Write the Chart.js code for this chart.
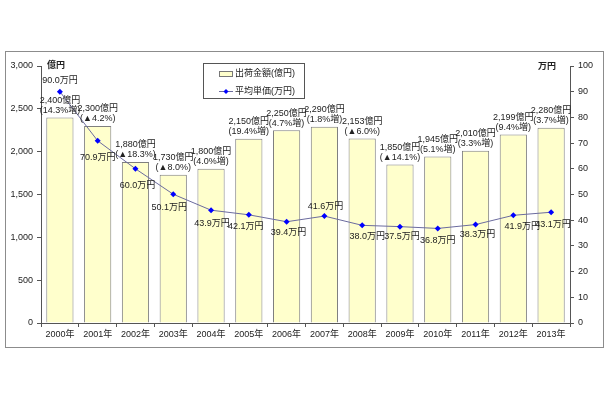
<!DOCTYPE html>
<html>
<head>
<meta charset="utf-8">
<script src="https://cdn.jsdelivr.net/npm/chart.js@4"></script>
<style>
  body { margin: 0; background: #fff; }
  #frame { position: absolute; left: 5px; top: 51px; width: 597px; height: 295px; border: 1px solid #8c8c8c; }
</style>
</head>
<body>
<div id="frame"><canvas id="chart"></canvas></div>
<script>
const years = ['2000年', '2001年', '2002年', '2003年', '2004年', '2005年', '2006年',
               '2007年', '2008年', '2009年', '2010年', '2011年', '2012年', '2013年'];
const shipments = [2400, 2300, 1880, 1730, 1800, 2150, 2250, 2290, 2153, 1850, 1945, 2010, 2199, 2280];
const shipmentChange = ['(14.3%増)', '(▲4.2%)', '(▲18.3%)', '(▲8.0%)', '(4.0%増)', '(19.4%増)', '(4.7%増)',
                        '(1.8%増)', '(▲6.0%)', '(▲14.1%)', '(5.1%増)', '(3.3%増)', '(9.4%増)', '(3.7%増)'];
const avgPrice = [90.0, 70.9, 60.0, 50.1, 43.9, 42.1, 39.4, 41.6, 38.0, 37.5, 36.8, 38.3, 41.9, 43.1];
const leftTicks = [0, 500, 1000, 1500, 2000, 2500, 3000];
const rightTicks = [0, 10, 20, 30, 40, 50, 60, 70, 80, 90, 100];

// label nudges for the price line (dx, dy from the point)
const priceLabelPos = [[0, -11], [0, 17], [2, 17], [-4, 13], [1, 13], [-3, 12], [2, 11],
                       [1, -10], [5, 11], [2, 10], [0, 12], [2, 10], [9, 11], [2, 12]];

const FONT = '"Liberation Sans", "Noto Sans CJK JP", sans-serif';

const labelsPlugin = {
    id: 'labels',
    afterDatasetsDraw(chart) {
        const ctx = chart.ctx;
        ctx.save();
        ctx.fillStyle = '#222';
        ctx.font = '9px ' + FONT;
        ctx.textAlign = 'center';
        ctx.textBaseline = 'middle';

        const bars = chart.getDatasetMeta(0).data;
        bars.forEach((b, i) => {
            ctx.fillText(shipments[i].toLocaleString('en-US') + '億円', b.x, b.y - 17);
            ctx.fillText(shipmentChange[i], b.x, b.y - 7);
        });

        const pts = chart.getDatasetMeta(1).data;
        pts.forEach((p, i) => {
            ctx.fillText(avgPrice[i].toFixed(1) + '万円', p.x + priceLabelPos[i][0], p.y + priceLabelPos[i][1]);
        });

        // axis unit titles
        const area = chart.chartArea;
        ctx.font = 'bold 9px ' + FONT;
        ctx.textAlign = 'left';
        ctx.fillText('億円', area.left + 6, area.top);
        ctx.textAlign = 'right';
        ctx.fillText('万円', area.right - 14, area.top + 1);

        // legend box
        ctx.strokeStyle = '#555';
        ctx.lineWidth = 1;
        ctx.strokeRect(197.5, 11.5, 101, 35);
        ctx.fillStyle = '#FFFFCC';
        ctx.fillRect(213, 19, 14, 5);
        ctx.strokeStyle = '#777';
        ctx.strokeRect(213.5, 19.5, 13, 5);
        ctx.strokeStyle = '#6B6B9E';
        ctx.beginPath();
        ctx.moveTo(213, 39.5);
        ctx.lineTo(227, 39.5);
        ctx.stroke();
        ctx.fillStyle = '#0000FF';
        ctx.beginPath();
        ctx.moveTo(220, 37); ctx.lineTo(222.5, 39.5); ctx.lineTo(220, 42); ctx.lineTo(217.5, 39.5);
        ctx.closePath();
        ctx.fill();
        ctx.fillStyle = '#222';
        ctx.font = '9px ' + FONT;
        ctx.textAlign = 'left';
        ctx.fillText('出荷金額(億円)', 229, 22);
        ctx.fillText('平均単価(万円)', 229, 40);
        ctx.restore();
    }
};

new Chart(document.getElementById('chart'), {
    data: {
        labels: years,
        datasets: [
            {
                type: 'bar',
                label: '出荷金額(億円)',
                data: shipments,
                yAxisID: 'y',
                backgroundColor: '#FFFFCC',
                borderColor: '#7f7f7f',
                borderWidth: 1,
                categoryPercentage: 1,
                barPercentage: 0.72,
                order: 2
            },
            {
                type: 'line',
                label: '平均単価(万円)',
                data: avgPrice,
                yAxisID: 'y1',
                borderColor: '#6B6B9E',
                borderWidth: 1,
                pointStyle: 'rectRot',
                pointRadius: 3,
                pointBackgroundColor: '#0000FF',
                pointBorderColor: '#0000FF',
                pointBorderWidth: 0,
                tension: 0,
                order: 1
            }
        ]
    },
    options: {
        responsive: true,
        maintainAspectRatio: false,
        animation: false,
        layout: { padding: { top: 14, left: 0, right: 0, bottom: 0 } },
        plugins: {
            legend: { display: false },
            tooltip: { enabled: false }
        },
        scales: {
            x: {
                grid: { offset: true, drawOnChartArea: false, tickLength: 4, color: '#555' },
                border: { color: '#555' },
                ticks: { color: '#222', font: { size: 9, family: FONT }, padding: 2 },
                afterFit(scale) { scale.height = 24; }
            },
            y: {
                position: 'left',
                min: 0,
                max: 3000,
                afterBuildTicks(scale) { scale.ticks = leftTicks.map(v => ({ value: v })); },
                grid: { drawOnChartArea: false, tickLength: 4, color: '#555' },
                border: { color: '#555' },
                ticks: {
                    color: '#222',
                    font: { size: 9, family: FONT },
                    padding: 4,
                    callback: v => v.toLocaleString('en-US')
                },
                afterFit(scale) { scale.width = 35; }
            },
            y1: {
                position: 'right',
                min: 0,
                max: 100,
                afterBuildTicks(scale) { scale.ticks = rightTicks.map(v => ({ value: v })); },
                grid: { drawOnChartArea: false, tickLength: 4, color: '#555' },
                border: { color: '#555' },
                ticks: { color: '#222', font: { size: 9, family: FONT }, padding: 4 },
                afterFit(scale) { scale.width = 33; }
            }
        }
    },
    plugins: [labelsPlugin]
});
</script>
</body>
</html>
